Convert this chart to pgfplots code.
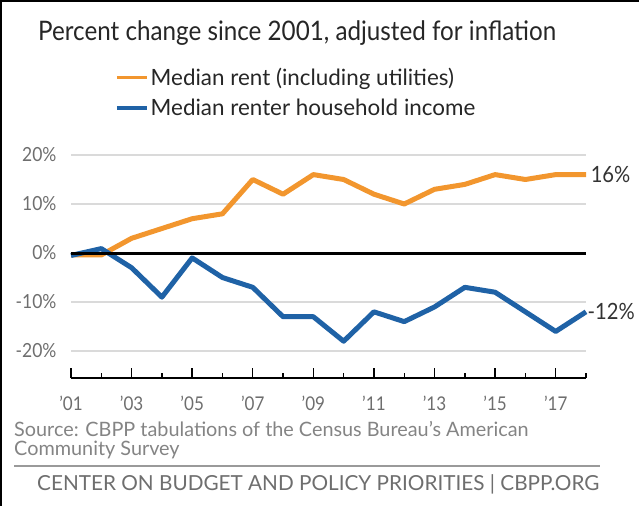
\documentclass[border=0pt]{standalone}
\usepackage{pgfplots}
\pgfplotsset{compat=1.18}
\usepackage{fontspec}
\setmainfont{Lato}
\newfontfamily\condfont[FakeStretch=0.9]{Lato}
\definecolor{rentorange}{HTML}{F2962E}
\definecolor{incblue}{HTML}{1F62A6}
\definecolor{txtgray}{HTML}{6E6E6E}
\definecolor{gridgray}{HTML}{DADADA}
\begin{document}
\begin{tikzpicture}
\path[use as bounding box] (0bp,0bp) rectangle (639bp,506bp);
% frame lines
\draw[black, line width=2.5bp] (1bp,0bp) -- (1bp,505bp) -- (639bp,505bp);
% title
\node[anchor=base west, inner sep=0pt, font=\condfont\fontsize{27}{31}\selectfont, text=black!85] at (38bp,465bp) {Percent change since 2001, adjusted for inflation};
\begin{axis}[
  at={(71bp,128bp)}, anchor=south west,
  scale only axis, width=515bp, height=223bp,
  xmin=2001, xmax=2018, ymin=-25.5, ymax=20,
  clip=false,
  axis x line=bottom, axis y line=left,
  x axis line style={-, black, line width=1.6bp},
  y axis line style={draw=none},
  xtick={2001,2003,...,2017},
  xticklabels={’01,’03,’05,’07,’09,’11,’13,’15,’17},
  minor xtick={2002,2004,...,2018},
  tick align=inside,
  major tick length=10bp, minor tick length=5bp,
  xtick style={black, line width=1.4bp},
  minor tick style={black, line width=1.4bp},
  ytick={-20,-10,0,10,20},
  yticklabels={-20\%,-10\%,0\%,10\%,20\%},
  ytick style={draw=none},
  ymajorgrids, grid style={gridgray, line width=1.2bp},
  /pgf/number format/assume math mode=true,
  xticklabel style={font=\condfont\fontsize{19}{22}\selectfont, text=txtgray, yshift=-15bp},
  yticklabel style={font=\condfont\fontsize{19.5}{22}\selectfont, text=txtgray, xshift=-11bp},
  legend style={at={(axis description cs:0.0855,1.40)}, anchor=north west, draw=none, fill=none,
    font=\fontsize{22.5}{26}\selectfont, text=black!85, row sep=8bp, inner sep=0pt,
    /tikz/every even column/.append style={column sep=6bp}},
  legend cell align=left,
  legend image code/.code={\draw[#1, line width=3.5bp] (0bp,0bp) -- (30bp,0bp);},
]
\addplot[rentorange, line width=5bp, line join=round] coordinates {
(2001,-0.4) (2002,-0.4) (2003,3) (2004,5) (2005,7) (2006,8) (2007,15) (2008,12)
(2009,16) (2010,15) (2011,12) (2012,10) (2013,13) (2014,14) (2015,16) (2016,15)
(2017,16) (2018,16)};
\addlegendentry{Median rent (including utilities)}
\addplot[incblue, line width=5bp, line join=round] coordinates {
(2001,-0.5) (2002,0.9) (2003,-3) (2004,-9) (2005,-1) (2006,-5) (2007,-7) (2008,-13)
(2009,-13) (2010,-18) (2011,-12) (2012,-14) (2013,-11) (2014,-7) (2015,-8) (2016,-12)
(2017,-16) (2018,-12)};
\addlegendentry{Median renter household income}
\draw[black, line width=3bp] (axis cs:2001,0) -- (axis cs:2018,0);
\node[anchor=west, inner sep=0pt, font=\condfont\fontsize{22.5}{25}\selectfont, text=black!80] at (axis cs:2018.15,16) {16\%};
\node[anchor=west, inner sep=0pt, font=\condfont\fontsize{22.5}{25}\selectfont, text=black!80] at (axis cs:2018.05,-12) {-12\%};
\end{axis}
% source
\node[anchor=base west, inner sep=0pt, font=\fontsize{19.9}{22}\selectfont, text=txtgray!85] at (14bp,69bp) {Source: CBPP tabulations of the Census Bureau’s American};
\node[anchor=base west, inner sep=0pt, font=\fontsize{19.9}{22}\selectfont, text=txtgray!85] at (14bp,50bp) {Community Survey};
\draw[txtgray!70, line width=1.3bp] (14bp,40bp) -- (600bp,40bp);
\node[anchor=base west, inner sep=0pt, font=\fontsize{20.8}{24}\selectfont, text=txtgray] at (37bp,16bp) {CENTER ON BUDGET AND POLICY PRIORITIES | CBPP.ORG};
\end{tikzpicture}
\end{document}
